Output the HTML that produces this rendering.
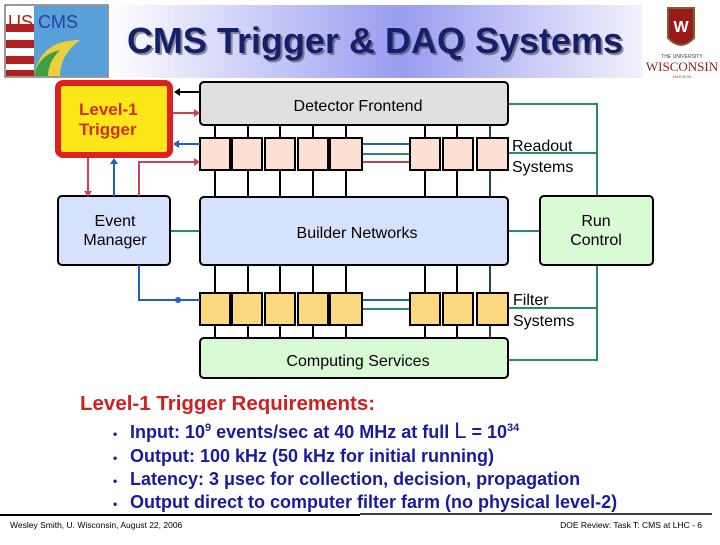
<!DOCTYPE html>
<html><head><meta charset="utf-8"><style>
body{margin:0;width:720px;height:540px;overflow:hidden;background:#fff;font-family:"Liberation Sans",sans-serif;}
</style></head><body>
<svg width="720" height="540" xmlns="http://www.w3.org/2000/svg" font-family="Liberation Sans, sans-serif">
<defs>
<linearGradient id="hg" x1="0" x2="1" y1="0" y2="0">
<stop offset="0" stop-color="#ffffff"/><stop offset="0.55" stop-color="#9a9cf0"/><stop offset="1" stop-color="#f2f2fc"/></linearGradient>
</defs>
<rect x="108" y="5" width="534" height="73" fill="url(#hg)"/>
<!-- left logo -->
<rect x="5" y="5" width="103" height="72" fill="#fff" stroke="#333"/>
<g>
<rect x="6" y="6" width="28" height="70" fill="#fff"/>
<rect x="6" y="24" width="28" height="8" fill="#b02020"/><rect x="6" y="40" width="28" height="8" fill="#b02020"/><rect x="6" y="56" width="28" height="8" fill="#b02020"/><rect x="6" y="70" width="28" height="6" fill="#b02020"/>
<path d="M34 6 H108 V76 H34 Z" fill="#5aa0d8"/>
<path d="M34 76 Q40 40 80 40 Q60 55 60 76 Z" fill="#e8d040"/>
<path d="M34 76 Q38 55 60 50 Q48 62 48 76Z" fill="#40a040"/>
<text x="8" y="28" font-size="18" fill="#b02020">US</text><text x="38" y="28" font-size="18" fill="#2040a0">CMS</text>
</g>
<!-- right logo -->
<path d="M668 8 h26 v30 q-13 14 -26 0z" fill="#9a1a1a" stroke="#7a6030" stroke-width="2"/>
<text x="681" y="32" font-size="16" font-weight="bold" fill="#fff" text-anchor="middle">W</text>
<text x="682" y="58" font-size="5" fill="#444" text-anchor="middle">THE UNIVERSITY</text>
<text x="682" y="71" font-size="13" fill="#9a1a1a" text-anchor="middle" font-family="Liberation Serif, serif">WISCONSIN</text>
<text x="682" y="78" font-size="4" fill="#666" text-anchor="middle">MADISON</text>
<text x="377" y="55" font-size="36" font-weight="bold" fill="#333" text-anchor="middle" opacity="0.5">CMS Trigger &amp; DAQ Systems</text>
<text x="375" y="53" font-size="36" font-weight="bold" fill="#16206a" text-anchor="middle">CMS Trigger &amp; DAQ Systems</text>

<!-- vertical black lines -->
<g stroke="#000" stroke-width="2">
<line x1="215" y1="125" x2="215" y2="338"/><line x1="248" y1="125" x2="248" y2="338"/><line x1="280" y1="125" x2="280" y2="338"/><line x1="313" y1="125" x2="313" y2="338"/><line x1="346" y1="125" x2="346" y2="338"/>
<line x1="425" y1="125" x2="425" y2="338"/><line x1="457" y1="125" x2="457" y2="338"/>
</g>
<line x1="490" y1="125" x2="490" y2="338" stroke="#1f4a40" stroke-width="2"/>

<!-- teal lines -->
<g stroke="#2a8a70" stroke-width="2" fill="none">
<polyline points="508,104 597,104 597,196"/>
<line x1="508" y1="153" x2="597" y2="153"/>
<line x1="508" y1="231" x2="540" y2="231"/>
<polyline points="597,265 597,360 508,360"/>
<line x1="508" y1="308" x2="597" y2="308"/>
<line x1="170" y1="231" x2="200" y2="231"/>
<line x1="362" y1="154" x2="410" y2="154"/>
<line x1="362" y1="309" x2="410" y2="309"/>
</g>
<line x1="362" y1="144" x2="410" y2="144" stroke="#2060c0" stroke-width="2"/>
<line x1="362" y1="162" x2="410" y2="162" stroke="#c04050" stroke-width="2"/>
<line x1="362" y1="300" x2="410" y2="300" stroke="#2060c0" stroke-width="2"/>

<!-- boxes -->
<rect x="200" y="82" width="308" height="43" rx="4" fill="#e0e0e0" stroke="#000" stroke-width="2"/>
<text x="358" y="111" font-size="16" text-anchor="middle">Detector Frontend</text>
<g fill="#fde0d4" stroke="#000" stroke-width="2">
<rect x="200" y="138" width="30" height="32"/><rect x="232" y="138" width="30" height="32"/><rect x="265" y="138" width="30" height="32"/><rect x="298" y="138" width="30" height="32"/><rect x="330" y="138" width="32" height="32"/>
<rect x="410" y="138" width="30" height="32"/><rect x="443" y="138" width="30" height="32"/><rect x="477" y="138" width="31" height="32"/>
</g>
<g fill="#fcd880" stroke="#000" stroke-width="2">
<rect x="200" y="293" width="30" height="32"/><rect x="232" y="293" width="30" height="32"/><rect x="265" y="293" width="30" height="32"/><rect x="298" y="293" width="30" height="32"/><rect x="330" y="293" width="32" height="32"/>
<rect x="410" y="293" width="30" height="32"/><rect x="443" y="293" width="30" height="32"/><rect x="477" y="293" width="31" height="32"/>
</g>
<rect x="200" y="197" width="308" height="68" rx="4" fill="#d6e2fc" stroke="#000" stroke-width="2"/>
<text x="357" y="238" font-size="16" text-anchor="middle">Builder Networks</text>
<rect x="200" y="338" width="308" height="40" rx="4" fill="#dafad6" stroke="#000" stroke-width="2"/>
<text x="358" y="366" font-size="16" text-anchor="middle">Computing Services</text>
<rect x="58" y="196" width="112" height="69" rx="4" fill="#d6e2fc" stroke="#000" stroke-width="2"/>
<text x="115" y="226" font-size="16" text-anchor="middle">Event</text>
<text x="115" y="245" font-size="16" text-anchor="middle">Manager</text>
<rect x="540" y="196" width="113" height="69" rx="4" fill="#dafad6" stroke="#000" stroke-width="2"/>
<text x="596" y="226" font-size="16" text-anchor="middle">Run</text>
<text x="596" y="245" font-size="16" text-anchor="middle">Control</text>
<text x="512" y="151" font-size="16">Readout</text>
<text x="512" y="172" font-size="16">Systems</text>
<text x="513" y="305" font-size="16">Filter</text>
<text x="513" y="326" font-size="16">Systems</text>

<!-- Level-1 -->
<rect x="58" y="83" width="112" height="72" rx="5" fill="#fce818" stroke="#e02020" stroke-width="6"/>
<text x="79" y="115" font-size="17" font-weight="bold" fill="#d03010">Level-1</text>
<text x="79" y="135" font-size="17" font-weight="bold" fill="#d03010">Trigger</text>

<!-- connectors -->
<line x1="200" y1="92" x2="178" y2="92" stroke="#000" stroke-width="2"/><path d="M174 92 l6 -4 v8z" fill="#000"/>
<line x1="173" y1="113" x2="194" y2="113" stroke="#d04050" stroke-width="2"/><path d="M200 113 l-6 -4 v8z" fill="#d04050"/>
<line x1="200" y1="144" x2="178" y2="144" stroke="#2060c0" stroke-width="2"/><path d="M173 144 l6 -4 v8z" fill="#2060c0"/>
<line x1="88" y1="158" x2="88" y2="192" stroke="#d04050" stroke-width="2"/><path d="M88 197 l-4 -6 h8z" fill="#d04050"/>
<line x1="114" y1="196" x2="114" y2="162" stroke="#2060c0" stroke-width="2"/><path d="M114 158 l-4 6 h8z" fill="#2060c0"/>
<polyline points="139,196 139,162 194,162" stroke="#d04050" stroke-width="2" fill="none"/><path d="M200 162 l-6 -4 v8z" fill="#d04050"/>
<polyline points="139,265 139,300 200,300" stroke="#2060c0" stroke-width="2" fill="none"/><circle cx="178" cy="300" r="3" fill="#2060c0"/>

<!-- requirements -->
<text x="80" y="410" font-size="20.5" font-weight="bold" fill="#d02020">Level-1 Trigger Requirements:</text>
<g font-size="18" font-weight="bold" fill="#1a1aa0">
<text x="113" y="438" font-size="12">•</text><text x="130" y="438">Input: 10<tspan font-size="11" dy="-7">9</tspan><tspan dy="7"> events/sec at 40 MHz at full </tspan><tspan font-size="22" font-weight="normal">L</tspan> = 10<tspan font-size="11" dy="-7">34</tspan></text>
<text x="113" y="462" font-size="12">•</text><text x="130" y="462">Output: 100 kHz (50 kHz for initial running)</text>
<text x="113" y="485" font-size="12">•</text><text x="130" y="485">Latency: 3 μsec for collection, decision, propagation</text>
<text x="113" y="508" font-size="12">•</text><text x="130" y="508">Output direct to computer filter farm (no physical level-2)</text>
</g>
<line x1="0" y1="515" x2="360" y2="515" stroke="#000" stroke-width="2"/>
<line x1="360" y1="514" x2="712" y2="514" stroke="#000" stroke-width="1.5"/>
<text x="10" y="528" font-size="8.5">Wesley Smith, U. Wisconsin, August 22, 2006</text>
<text x="702" y="528" font-size="8.5" text-anchor="end">DOE Review: Task T: CMS at LHC - 6</text>
</svg>
</body></html>
